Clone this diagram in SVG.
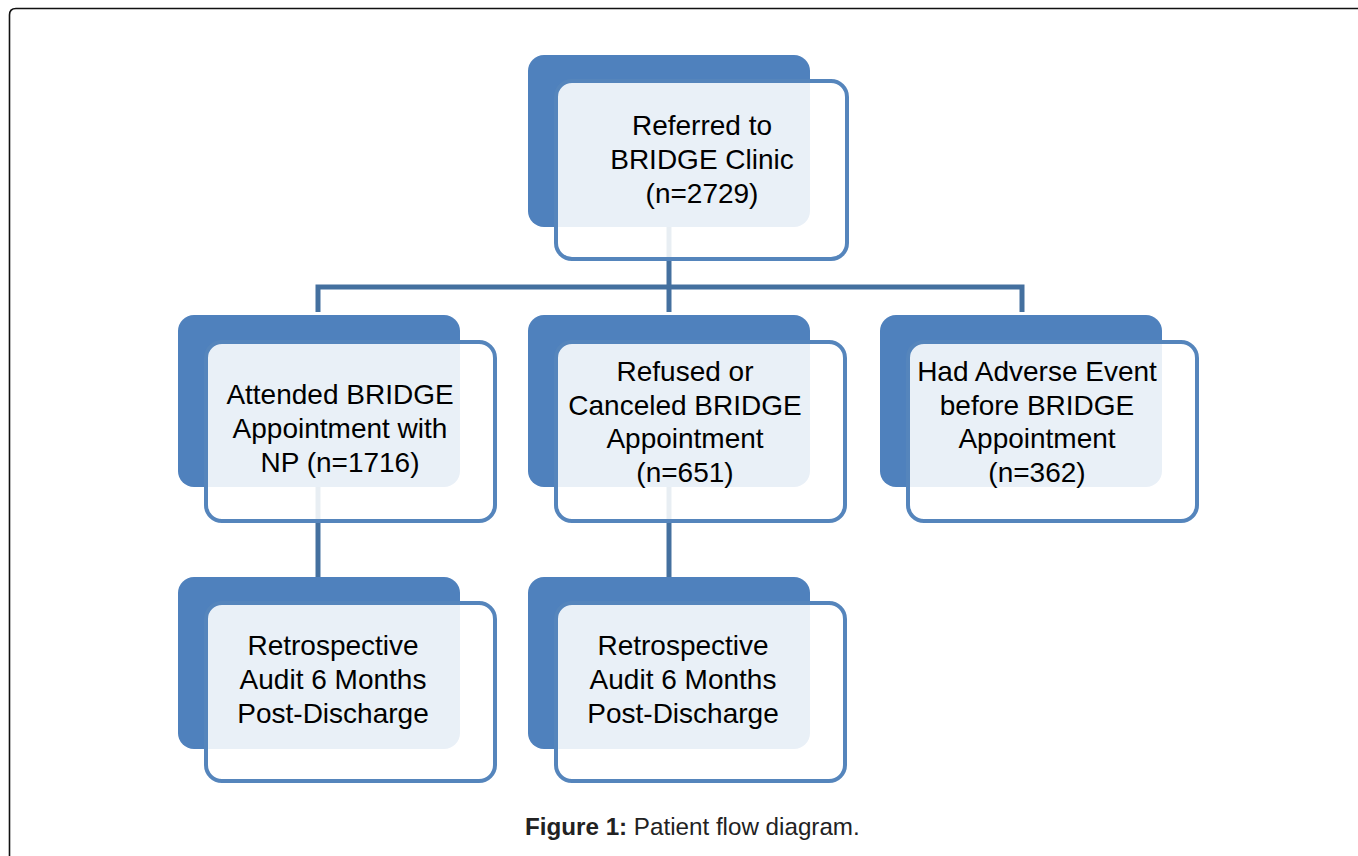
<svg xmlns="http://www.w3.org/2000/svg" width="1358" height="856" viewBox="0 0 1358 856">
<style>
.back{fill:#4f81bd}
.front{fill:#ffffff;fill-opacity:0.88;stroke:#5585bc;stroke-width:4}
.conn{stroke:#44709f;stroke-width:5;fill:none}
.t{font-family:"Liberation Sans",Arial,sans-serif;font-size:28px;fill:#000;text-anchor:middle}
.cap{font-family:"Liberation Sans",Arial,sans-serif;font-size:24.2px;fill:#222}
</style>
<rect width="1358" height="856" fill="#ffffff"/>
<path d="M9.5,856 V15 Q9.5,8.5 16,8.5 H1358" fill="none" stroke="#111" stroke-width="1.6"/>
<g id="connectors">
<path class="conn" d="M669,200 V312"/>
<path class="conn" d="M318,312 V287 H1022 V312"/>
<path class="conn" d="M318,470 V578"/>
<path class="conn" d="M669,470 V578"/>
</g>
<g id="node-referred">
<rect class="back" x="528" y="55" width="282" height="172" rx="16"/>
<rect class="front" x="556" y="81" width="291" height="178" rx="16"/>
<text class="t" x="702" y="135">Referred to</text>
<text class="t" x="702" y="169">BRIDGE Clinic</text>
<text class="t" x="702" y="203">(n=2729)</text>
</g>
<g id="node-attended">
<rect class="back" x="178" y="315" width="282" height="172" rx="16"/>
<rect class="front" x="206" y="342" width="289" height="179" rx="16"/>
<text class="t" x="340" y="404">Attended BRIDGE</text>
<text class="t" x="340" y="438">Appointment with</text>
<text class="t" x="340" y="472">NP (n=1716)</text>
</g>
<g id="node-refused">
<rect class="back" x="528" y="315" width="282" height="172" rx="16"/>
<rect class="front" x="556" y="342" width="289" height="179" rx="16"/>
<text class="t" x="685" y="381">Refused or</text>
<text class="t" x="685" y="414.5">Canceled BRIDGE</text>
<text class="t" x="685" y="448">Appointment</text>
<text class="t" x="685" y="481.5">(n=651)</text>
</g>
<g id="node-adverse">
<rect class="back" x="880" y="315" width="282" height="172" rx="16"/>
<rect class="front" x="908" y="342" width="289" height="179" rx="16"/>
<text class="t" x="1037" y="381">Had Adverse Event</text>
<text class="t" x="1037" y="414.5">before BRIDGE</text>
<text class="t" x="1037" y="448">Appointment</text>
<text class="t" x="1037" y="481.5">(n=362)</text>
</g>
<g id="node-audit-1">
<rect class="back" x="178" y="577" width="282" height="172" rx="16"/>
<rect class="front" x="206" y="603" width="289" height="178" rx="16"/>
<text class="t" x="333" y="655">Retrospective</text>
<text class="t" x="333" y="689">Audit 6 Months</text>
<text class="t" x="333" y="723">Post-Discharge</text>
</g>
<g id="node-audit-2">
<rect class="back" x="528" y="577" width="282" height="172" rx="16"/>
<rect class="front" x="556" y="603" width="289" height="178" rx="16"/>
<text class="t" x="683" y="655">Retrospective</text>
<text class="t" x="683" y="689">Audit 6 Months</text>
<text class="t" x="683" y="723">Post-Discharge</text>
</g>
<text class="cap" x="525" y="835"><tspan font-weight="bold">Figure 1:</tspan> Patient flow diagram.</text>
</svg>
